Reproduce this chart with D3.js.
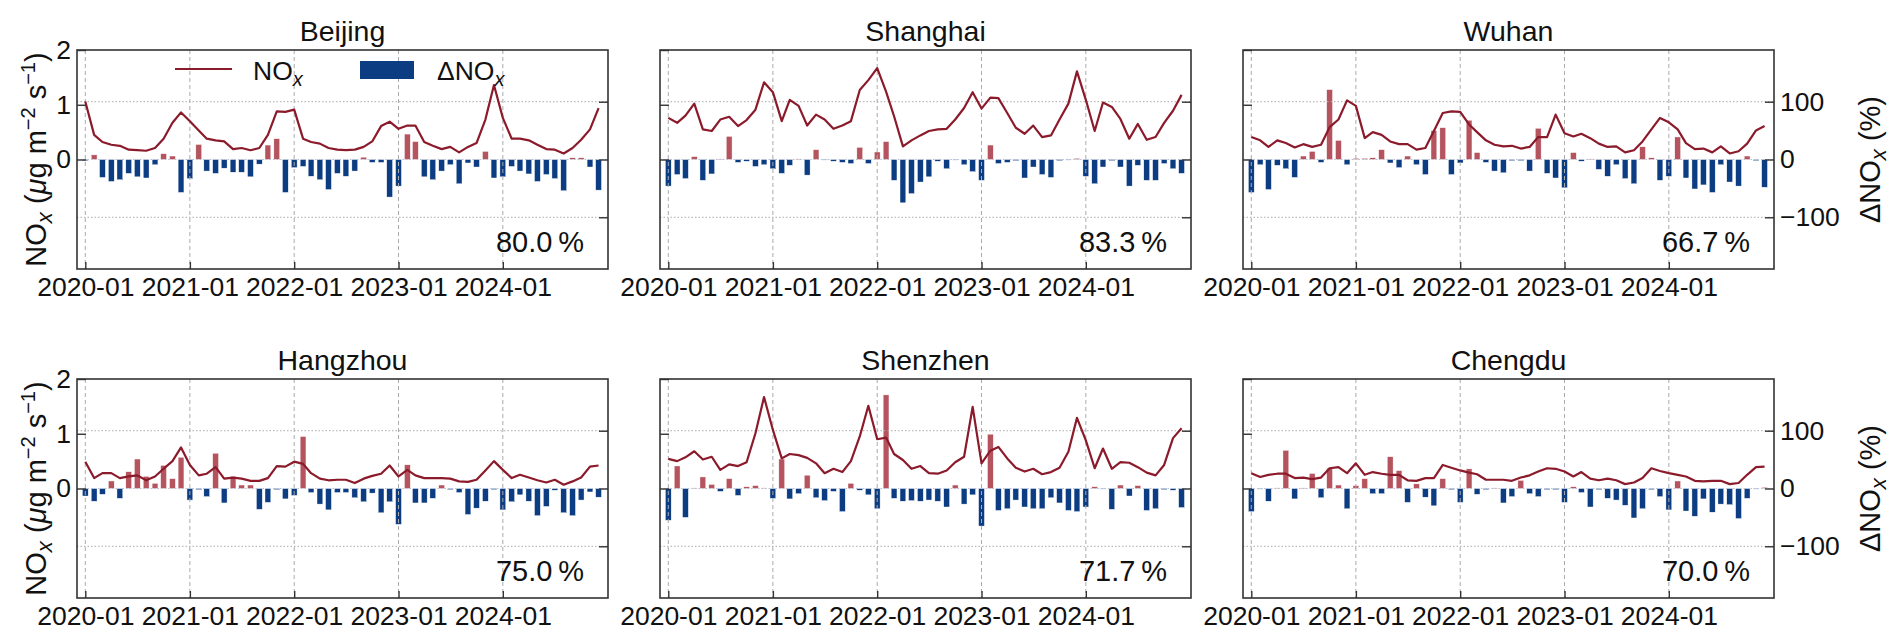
<!DOCTYPE html>
<html>
<head>
<meta charset="utf-8">
<script src="https://cdn.jsdelivr.net/npm/d3@7"></script>
<style>
  body { margin: 0; background: #fff; }
  svg text { font-family: "Liberation Sans", Arial, sans-serif; fill: #111; }
</style>
</head>
<body>
<svg id="chart" width="1892" height="643"></svg>
<script>
// monthly data, 2020-01 .. 2024-12
const cities = ["Beijing", "Shanghai", "Wuhan", "Hangzhou", "Shenzhen", "Chengdu"];
const pctLabels = ["80.0\u2009%", "83.3\u2009%", "66.7\u2009%", "75.0\u2009%", "71.7\u2009%", "70.0\u2009%"];
const tickLabels = ["2020-01", "2021-01", "2022-01", "2023-01", "2024-01"];

const noxBeijing = [1.06,0.45,0.32,0.27,0.25,0.18,0.17,0.16,0.21,0.38,
  0.67,0.86,0.70,0.53,0.38,0.35,0.33,0.19,0.21,0.17,
  0.21,0.45,0.88,0.87,0.91,0.38,0.32,0.29,0.21,0.18,
  0.17,0.18,0.23,0.33,0.61,0.69,0.56,0.62,0.62,0.32,
  0.25,0.19,0.23,0.13,0.23,0.30,0.73,1.36,0.76,0.38,
  0.38,0.35,0.27,0.19,0.18,0.11,0.21,0.36,0.55,0.94];
const dnoxBeijing = [-2,8,-31,-38,-35,-24,-30,-32,-9,10,
  6,-57,-33,26,-20,-24,-15,-22,-22,-30,
  -8,25,36,-57,-14,-12,-29,-35,-52,-24,
  -29,-20,4,-5,-5,-65,-46,44,31,-30,
  -35,-20,-9,-42,-6,-13,14,-32,-30,-12,
  -20,-25,-38,-26,-33,-54,3,3,-13,-53];

const noxShanghai = [0.76,0.67,0.80,1.02,0.55,0.52,0.73,0.78,0.61,0.72,
  0.91,1.41,1.23,0.70,1.09,0.98,0.62,0.82,0.73,0.56,
  0.62,0.70,1.27,1.45,1.67,1.24,0.79,0.24,0.35,0.44,
  0.52,0.55,0.56,0.73,0.94,1.23,0.93,1.13,1.12,0.85,
  0.58,0.47,0.62,0.41,0.44,0.73,1.02,1.61,1.09,0.52,
  1.04,0.96,0.74,0.38,0.65,0.36,0.41,0.67,0.89,1.18];
const dnoxShanghai = [-46,-26,-33,5,-36,-25,1,40,-5,-3,
  -12,-9,-16,-24,-10,1,-27,17,-1,-3,
  -5,-7,21,-7,13,31,-36,-75,-59,-39,
  -30,-3,-16,-1,-9,-21,-36,25,-7,-5,
  -2,-32,-13,-26,-31,-2,-1,2,-29,-42,
  -13,-2,-13,-46,-10,-36,-36,-7,-16,-24];

const noxWuhan = [0.41,0.35,0.23,0.35,0.30,0.22,0.28,0.23,0.27,0.59,
  0.73,1.08,0.98,0.39,0.50,0.45,0.33,0.28,0.28,0.18,
  0.21,0.52,0.85,0.88,0.87,0.64,0.50,0.35,0.27,0.24,
  0.25,0.20,0.23,0.41,0.41,0.82,0.48,0.42,0.47,0.39,
  0.29,0.23,0.24,0.13,0.17,0.33,0.55,0.76,0.68,0.55,
  0.30,0.19,0.20,0.13,0.24,0.11,0.15,0.29,0.53,0.61];
const dnoxWuhan = [-57,-9,-52,-10,-16,-31,6,14,-5,121,
  33,-9,2,2,3,17,-6,-14,6,-9,
  -26,50,55,-26,-6,68,12,-5,-20,-23,
  -2,-2,-20,54,-24,-32,-49,12,-3,1,
  -17,-29,-9,-33,-42,22,3,-36,-29,39,
  -32,-51,-44,-57,-9,-39,-46,6,-2,-48];

const noxHangzhou = [0.49,0.19,0.28,0.28,0.19,0.22,0.24,0.15,0.22,0.36,
  0.50,0.75,0.43,0.24,0.27,0.39,0.18,0.20,0.18,0.14,
  0.14,0.19,0.41,0.40,0.49,0.45,0.28,0.18,0.15,0.16,
  0.16,0.10,0.18,0.23,0.27,0.42,0.22,0.34,0.24,0.19,
  0.19,0.19,0.18,0.13,0.12,0.16,0.33,0.50,0.34,0.19,
  0.25,0.20,0.15,0.11,0.16,0.07,0.13,0.20,0.40,0.42];
const dnoxHangzhou = [-13,-22,-10,13,-17,29,51,21,9,40,
  17,54,-20,-2,-14,61,-25,21,6,6,
  -36,-24,-2,-18,-12,90,-7,-27,-37,-7,
  -7,-16,-23,-8,-42,-23,-62,41,-25,-25,
  -17,6,-2,-7,-45,-34,-22,-2,-37,-23,
  -11,-22,-47,-31,-3,-42,-47,-20,-6,-15];

const noxShenzhen = [0.54,0.50,0.57,0.68,0.53,0.58,0.34,0.44,0.41,0.48,
  1.01,1.67,1.07,0.55,0.63,0.61,0.56,0.46,0.28,0.36,
  0.30,0.50,0.95,1.51,0.90,0.93,0.63,0.52,0.36,0.41,
  0.28,0.27,0.33,0.48,0.58,1.49,0.46,0.69,0.76,0.55,
  0.38,0.31,0.36,0.26,0.30,0.38,0.67,1.29,0.88,0.37,
  0.73,0.36,0.48,0.47,0.39,0.29,0.24,0.43,0.92,1.10];
const dnoxShenzhen = [-55,39,-50,1,20,7,-5,17,-12,3,
  5,1,-17,51,-18,-9,23,-16,-21,-5,
  -40,9,-3,-11,-35,162,-17,-22,-21,-22,
  -20,-22,-32,6,-27,-11,-65,94,-38,-35,
  -20,-32,-35,-35,-16,-25,-38,-40,-32,3,
  -1,-36,6,-13,5,-38,-35,-2,-3,-33];

const noxChengdu = [0.28,0.21,0.25,0.27,0.27,0.19,0.20,0.17,0.20,0.37,
  0.39,0.28,0.46,0.25,0.30,0.27,0.25,0.25,0.15,0.14,
  0.19,0.19,0.43,0.38,0.33,0.29,0.26,0.16,0.16,0.16,
  0.14,0.20,0.24,0.31,0.37,0.36,0.31,0.22,0.30,0.18,
  0.15,0.18,0.15,0.08,0.11,0.19,0.37,0.32,0.28,0.25,
  0.22,0.14,0.13,0.14,0.14,0.08,0.10,0.25,0.39,0.40];
const dnoxChengdu = [-40,-1,-22,1,66,-18,1,26,-16,35,
  6,-35,5,17,-9,-9,55,31,-24,8,
  -15,-30,17,-2,-24,34,-10,-2,1,-25,
  -14,14,-9,-14,-2,-2,-24,3,-7,-32,
  -2,-17,-20,-29,-51,-35,-2,-14,-37,13,
  -39,-48,-18,-41,-27,-28,-52,-17,-1,2];

const noxSeries = [noxBeijing, noxShanghai, noxWuhan, noxHangzhou, noxShenzhen, noxChengdu];
const dnoxSeries = [dnoxBeijing, dnoxShanghai, dnoxWuhan, dnoxHangzhou, dnoxShenzhen, dnoxChengdu];

const lineColor = "#8b1a2b";
const posColor = "#b5545f";
const negColor = "#0c3c82";
const gridColor = "#aaaaaa";

const svg = d3.select("#chart");
svg.append("rect").attr("width", 1892).attr("height", 643).attr("fill", "#fff");

const width = 531, height = 219;
const panelLeft = [77, 660, 1243];
const panelTop = [50, 379];
const barW = 5.8;

const months = d3.range(60).map(i => new Date(2020, i, 1));
const parseMonth = d3.timeParse("%Y-%m");
const tickDates = tickLabels.map(parseMonth);

const x = d3.scaleTime()
    .domain([new Date(2019, 11, 3), new Date(2025, 0, 3)])
    .range([0, width]);
const yLeft = d3.scaleLinear().domain([-2, 2]).range([height, 0]);
const yRight = d3.scaleLinear().domain([-189.5, 189.5]).range([height, 0]);

function styleAxis(g) {
  g.select(".domain").remove();
  g.selectAll(".tick line").attr("stroke", "#333").attr("stroke-width", 1.4);
  g.selectAll(".tick text").attr("font-size", 26.5).attr("fill", "#111")
   .attr("font-family", '"Liberation Sans", Arial, sans-serif');
}

cities.forEach((city, k) => {
  const col = k % 3, row = Math.floor(k / 3);
  const g = svg.append("g")
      .attr("transform", `translate(${panelLeft[col]},${panelTop[row]})`);

  // delta bars (right axis, %)
  g.append("g").selectAll("rect")
     .data(dnoxSeries[k])
     .enter().append("rect")
     .attr("x", (d, i) => x(months[i]) - barW / 2)
     .attr("y", d => yRight(Math.max(d, 0)))
     .attr("width", barW)
     .attr("height", d => Math.abs(yRight(d) - yRight(0)))
     .attr("fill", d => d >= 0 ? posColor : negColor)
     .attr("stroke", "#fff")
     .attr("stroke-width", 0.4);

  // grid
  g.append("g").selectAll("line")
     .data(tickDates)
     .enter().append("line")
     .attr("x1", d => x(d)).attr("x2", d => x(d))
     .attr("y1", 0).attr("y2", height)
     .attr("stroke", gridColor).attr("stroke-width", 1)
     .attr("stroke-dasharray", "4,3");
  g.append("g").selectAll("line")
     .data([-100, 0, 100])
     .enter().append("line")
     .attr("x1", 0).attr("x2", width)
     .attr("y1", d => yRight(d)).attr("y2", d => yRight(d))
     .attr("stroke", d => d === 0 ? "#b8c2d4" : gridColor).attr("stroke-width", 1)
     .attr("stroke-dasharray", "1.5,2");

  // NOx line (left axis)
  const line = d3.line()
      .x((d, i) => x(months[i]))
      .y(d => yLeft(d));
  g.append("path")
     .datum(noxSeries[k])
     .attr("d", line)
     .attr("fill", "none")
     .attr("stroke", lineColor)
     .attr("stroke-width", 2.2)
     .attr("stroke-linejoin", "round");

  // axes, ticks pointing inward
  const leftAxis = d3.axisLeft(yLeft).tickValues([0, 1, 2]).tickSize(-9).tickPadding(6)
      .tickFormat(d3.format("d"));
  if (col !== 0) leftAxis.tickFormat("");
  g.append("g").call(leftAxis).call(styleAxis);

  const rightAxis = d3.axisRight(yRight).tickValues([-100, 0, 100]).tickSize(-9).tickPadding(6);
  if (col !== 2) rightAxis.tickFormat("");
  g.append("g").attr("transform", `translate(${width},0)`).call(rightAxis).call(styleAxis);

  const bottomAxis = d3.axisBottom(x).tickValues(tickDates)
      .tickFormat(d3.timeFormat("%Y-%m")).tickSize(-7).tickPadding(8);
  g.append("g").attr("transform", `translate(0,${height})`).call(bottomAxis).call(styleAxis);

  g.append("rect")
     .attr("width", width).attr("height", height)
     .attr("fill", "none").attr("stroke", "#333").attr("stroke-width", 1.6);

  g.append("text")
     .attr("x", width / 2).attr("y", -9)
     .attr("text-anchor", "middle").attr("font-size", 28.5)
     .text(city);

  g.append("text")
     .attr("x", width - 24).attr("y", height - 17)
     .attr("text-anchor", "end").attr("font-size", 29)
     .text(pctLabels[k]);

  if (k === 0) {
    // legend
    g.append("line").attr("x1", 98).attr("x2", 155).attr("y1", 19).attr("y2", 19)
       .attr("stroke", lineColor).attr("stroke-width", 2.2);
    const t1 = g.append("text").attr("x", 176).attr("y", 30).attr("font-size", 26.5);
    t1.append("tspan").text("NO");
    t1.append("tspan").attr("font-style", "italic").attr("font-size", 20).attr("dy", 6).text("x");
    g.append("rect").attr("x", 283).attr("y", 11).attr("width", 54).attr("height", 18)
       .attr("fill", negColor);
    const t2 = g.append("text").attr("x", 360).attr("y", 30).attr("font-size", 26.5);
    t2.append("tspan").text("\u0394NO");
    t2.append("tspan").attr("font-style", "italic").attr("font-size", 20).attr("dy", 6).text("x");
  }

  if (col === 0) {
    const yl = svg.append("text")
       .attr("transform", `translate(46,${panelTop[row] + height / 2}) rotate(-90)`)
       .attr("text-anchor", "middle").attr("font-size", 29);
    yl.append("tspan").text("NO");
    yl.append("tspan").attr("font-style", "italic").attr("font-size", 22).attr("dy", 6).text("x");
    yl.append("tspan").attr("dy", -6).text(" (");
    yl.append("tspan").attr("font-style", "italic").text("\u03bc");
    yl.append("tspan").text("g m");
    yl.append("tspan").attr("font-size", 20).attr("dy", -11).text("\u22122");
    yl.append("tspan").attr("dy", 11).text(" s");
    yl.append("tspan").attr("font-size", 20).attr("dy", -11).text("\u22121");
    yl.append("tspan").attr("dy", 11).text(")");
  }
  if (col === 2) {
    const yr = svg.append("text")
       .attr("transform", `translate(1880,${panelTop[row] + height / 2}) rotate(-90)`)
       .attr("text-anchor", "middle").attr("font-size", 29);
    yr.append("tspan").text("\u0394NO");
    yr.append("tspan").attr("font-style", "italic").attr("font-size", 22).attr("dy", 6).text("x");
    yr.append("tspan").attr("dy", -6).text(" (%)");
  }
});
</script>
</body>
</html>
